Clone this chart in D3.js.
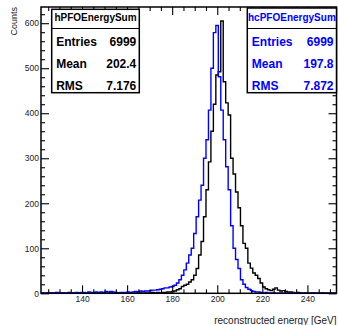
<!DOCTYPE html>
<html><head><meta charset="utf-8">
<script src="https://cdn.jsdelivr.net/npm/d3@7"></script>
<style>
html,body{margin:0;padding:0;background:#fff;}
svg{display:block;font-family:"Liberation Sans",Arial,Helvetica,sans-serif;}
</style></head>
<body><svg id="c" width="338" height="325"></svg>
<script>
// ---- data ----
const xMin = 121.8, xMax = 252.9, nBins = 120;
const hPFOCounts = [
 0,0,0,0,0,0,0,0,0,0,
 0,0,0,0,1,0,0,0,0,0,
 0,0,0,1,0,0,0,0,1,0,
 0,1,0,0,1,0,0,1,0,1,
 1,0,1,1,0,2,1,2,1,2,
 2,3,3,4,5,
 8,10,15,18,20,25,30,40,55,85,115,170,230,292,360,420,485,492,
 605,
 470,423,396,300,265,225,190,150,111,100,67,56,45,40,33,23,14,
 10,8,6,9,12,7,5,6,4,3,3,2,1,2,
 1,0,1,0,0,1,0,0,0,1,0,0,0,0,0
];
const hcPFOCounts = [
 1,0,1,1,0,1,2,0,1,1,
 1,2,1,1,2,1,2,2,1,3,
 2,2,3,2,3,2,4,3,4,3,
 2,1,2,2,2,3,2,3,4,3,
 5,4,5,5,6,7,7,8,9,10,
 12,12,14,15,18,
 23,30,40,52,67,85,100,133,170,207,240,300,341,407,500,579,595,481,
 407,341,281,230,150,100,75,55,30,20,13,9,6,4,3,3,2,1,
 2,1,0,1,0,0,1,0,0,0,0,0,0,0,0,0,0,0,0,0,0,0,0,0,0,0,0,0,0
];
const xMajorTicks = [140,160,180,200,220,240];
const yMajorTicks = [0,100,200,300,400,500,600];
const stats = [
  {title:"hPFOEnergySum", rows:[["Entries","6999"],["Mean","202.4"],["RMS","7.176"]]},
  {title:"hcPFOEnergySum", rows:[["Entries","6999"],["Mean","197.8"],["RMS","7.872"]]}
];
const xTitle = "reconstructed energy [GeV]";
const yTitle = "Counts";

// ---- layout ----
const L = 41, R = 336.5, T = 7, B = 293.3;
const svg = d3.select("#c");
const x = d3.scaleLinear().domain([xMin, xMax]).range([L, R]);
const y = d3.scaleLinear().domain([0, 636]).range([B, T]);
const bw = (xMax - xMin) / nBins;

svg.append("clipPath").attr("id","clip").append("rect")
  .attr("x",L).attr("y",T).attr("width",R-L).attr("height",B-T);

function stepPts(counts){
  const pts = [[xMin,0]];
  counts.forEach((c,i)=>{ pts.push([xMin+i*bw,c]); pts.push([xMin+(i+1)*bw,c]); });
  pts.push([xMax,0]);
  return pts;
}
const line = d3.line().x(d=>x(d[0])).y(d=>y(d[1]));
const g = svg.append("g").attr("clip-path","url(#clip)");
g.append("path").attr("d",line(stepPts(hPFOCounts))).attr("fill","none")
  .attr("stroke","#000").attr("stroke-width",1.4);
g.append("path").attr("d",line(stepPts(hcPFOCounts))).attr("fill","none")
  .attr("stroke","#0000ff").attr("stroke-width",1.4);

// ---- axes ----
const xMinor = d3.range(125, 253, 5).filter(v=>!xMajorTicks.includes(v));
const yMinor = d3.range(0, 637, 20).filter(v=>!yMajorTicks.includes(v));
function styleAx(sel){
  sel.select(".domain").remove();
  sel.selectAll("line").attr("stroke","#000").attr("stroke-width",1.1);
  sel.selectAll("text").attr("fill","#222").attr("font-size","8.5px")
     .attr("font-family","Liberation Sans, Arial, sans-serif");
}
svg.append("g").attr("transform",`translate(0,${B})`)
  .call(d3.axisBottom(x).tickValues(xMajorTicks).tickSize(-8).tickPadding(1).tickFormat(d3.format("d")))
  .call(styleAx).selectAll("text").attr("y",9.2).attr("dy","0");
svg.append("g").attr("transform",`translate(0,${B})`)
  .call(d3.axisBottom(x).tickValues(xMinor).tickSize(-4).tickFormat("")).call(styleAx);
svg.append("g").attr("transform",`translate(0,${T})`)
  .call(d3.axisTop(x).tickValues(xMajorTicks).tickSize(-8).tickFormat("")).call(styleAx);
svg.append("g").attr("transform",`translate(0,${T})`)
  .call(d3.axisTop(x).tickValues(xMinor).tickSize(-4).tickFormat("")).call(styleAx);
svg.append("g").attr("transform",`translate(${L},0)`)
  .call(d3.axisLeft(y).tickValues(yMajorTicks).tickSize(-8).tickPadding(2).tickFormat(d3.format("d")))
  .call(styleAx).selectAll("text").attr("x",-2).attr("dy","0.32em");
svg.append("g").attr("transform",`translate(${L},0)`)
  .call(d3.axisLeft(y).tickValues(yMinor).tickSize(-4).tickFormat("")).call(styleAx);
svg.append("g").attr("transform",`translate(${R},0)`)
  .call(d3.axisRight(y).tickValues(yMajorTicks).tickSize(-8).tickFormat("")).call(styleAx);
svg.append("g").attr("transform",`translate(${R},0)`)
  .call(d3.axisRight(y).tickValues(yMinor).tickSize(-4).tickFormat("")).call(styleAx);

// frame
svg.append("rect").attr("x",L).attr("y",T).attr("width",R-L).attr("height",B-T)
  .attr("fill","none").attr("stroke","#000").attr("stroke-width",1.5);

// axis titles
svg.append("text").attr("x",R).attr("y",324).attr("text-anchor","end")
  .attr("font-size","10px").attr("fill","#222").text(xTitle);
svg.append("text").attr("transform",`translate(17,${T}) rotate(-90)`).attr("text-anchor","end")
  .attr("font-size","9px").attr("fill","#222").text(yTitle);

// stats boxes
const boxes = [
  {x0:51.7, x1:139.3, y0:9.3, color:"#000"},
  {x0:247.3, x1:336.5, y0:8, color:"#0000ff"}
];
stats.forEach((s,k)=>{
  const b = boxes[k];
  const bg = svg.append("g");
  bg.append("rect").attr("x",b.x0).attr("y",b.y0).attr("width",b.x1-b.x0).attr("height",92.7-b.y0)
    .attr("fill","#fff").attr("stroke","#000").attr("stroke-width",1.5);
  bg.append("line").attr("x1",b.x0).attr("x2",b.x1).attr("y1",28.5).attr("y2",28.5)
    .attr("stroke","#000").attr("stroke-width",1.2);
  bg.append("text").attr("x",(b.x0+b.x1)/2).attr("y",20.8).attr("text-anchor","middle")
    .attr("font-size","10px").attr("font-weight","bold").attr("fill",b.color).text(s.title);
  const base = [46.3, 68, 89.8];
  s.rows.forEach((r,j)=>{
    bg.append("text").attr("x",b.x0+4.5).attr("y",base[j]).attr("font-size","12px")
      .attr("font-weight","bold").attr("fill",b.color).text(r[0]);
    bg.append("text").attr("x",b.x1-3).attr("y",base[j]).attr("text-anchor","end").attr("font-size","12px")
      .attr("font-weight","bold").attr("fill",b.color).text(r[1]);
  });
});
</script></body></html>
